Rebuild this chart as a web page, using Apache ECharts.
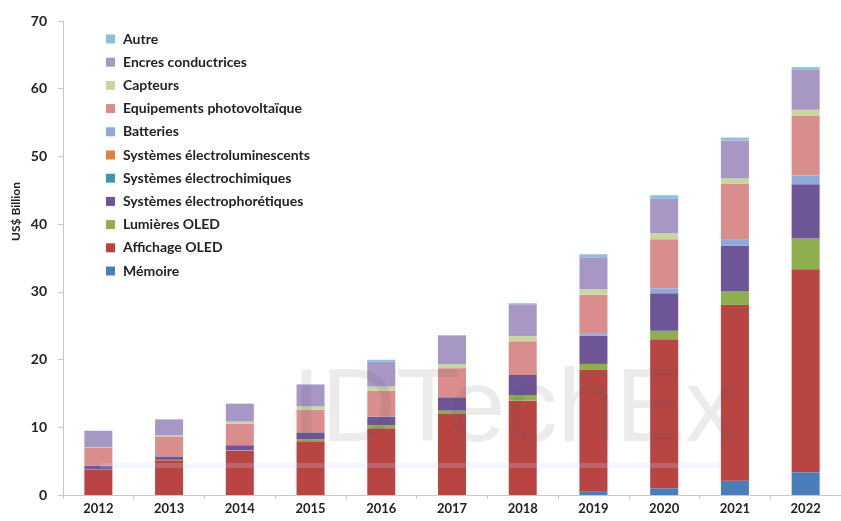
<!DOCTYPE html>
<html>
<head>
<meta charset="utf-8">
<script src="https://cdn.jsdelivr.net/npm/echarts@6/dist/echarts.min.js"></script>
<style>
  html, body { margin: 0; padding: 0; background: #ffffff; }
  #chart { width: 841px; height: 521px; }
</style>
</head>
<body>
<div id="chart"></div>
<script>
// Years on the category axis
const years = ['2012', '2013', '2014', '2015', '2016', '2017', '2018', '2019', '2020', '2021', '2022'];

// Market value per segment, US$ billion (stacked bottom to top)
const memoire          = [0,    0,    0,    0,    0,    0,    0,    0.49, 0.99, 2.12, 3.35];
const affichageOled    = [3.8,  5.15, 6.55, 7.95, 9.85, 11.96, 13.93, 17.98, 22.0, 25.95, 29.99];
const lumieresOled     = [0.05, 0.05, 0.05, 0.3,  0.45, 0.5,  0.84, 0.89, 1.28, 2.07, 4.53];
const electrophoretic  = [0.5,  0.5,  0.75, 1.0,  1.27, 1.97, 2.95, 4.18, 5.52, 6.65, 8.03];
const electrochimiques = [0,    0,    0,    0,    0,    0,    0,    0,    0,    0,    0];
const electrolum       = [0,    0,    0,    0,    0,    0,    0,    0,    0,    0,    0];
const batteries        = [0,    0,    0,    0,    0,    0,    0,    0.35, 0.74, 0.99, 1.28];
const photovoltaique   = [2.6,  2.95, 3.2,  3.35, 3.85, 4.3,  4.97, 5.7,  7.24, 8.17, 8.81];
const capteurs         = [0.1,  0.15, 0.3,  0.5,  0.6,  0.6,  0.8,  0.79, 0.89, 0.84, 0.89];
const encres           = [2.4,  2.36, 2.6,  3.2,  3.65, 4.2,  4.68, 4.73, 5.07, 5.56, 5.91];
const autre            = [0.05, 0.05, 0.05, 0.05, 0.3,  0.1,  0.15, 0.44, 0.54, 0.44, 0.39];

// Y axis ticks
const yMin = 0, yMax = 70, yStep = 10;

const segments = [
  { name: 'Mémoire', data: memoire, color: '#4a7ebb' },
  { name: 'Affichage OLED', data: affichageOled, color: '#b94543' },
  { name: 'Lumières OLED', data: lumieresOled, color: '#8fae4e' },
  { name: 'Systèmes électrophorétiques', data: electrophoretic, color: '#6e5596' },
  { name: 'Systèmes électrochimiques', data: electrochimiques, color: '#3f97ad' },
  { name: 'Systèmes électroluminescents', data: electrolum, color: '#e0823f' },
  { name: 'Batteries', data: batteries, color: '#8eaadb' },
  { name: 'Equipements photovoltaïque', data: photovoltaique, color: '#d98e8d' },
  { name: 'Capteurs', data: capteurs, color: '#c8d6a0' },
  { name: 'Encres conductrices', data: encres, color: '#a797c4' },
  { name: 'Autre', data: autre, color: '#8fbfdc' }
];

const FONT = 'Lato, "Open Sans", sans-serif';

const chart = echarts.init(document.getElementById('chart'), null, { renderer: 'canvas' });

chart.setOption({
  animation: false,
  backgroundColor: '#ffffff',
  grid: { left: 63, top: 21, bottom: 26, width: 788, containLabel: false },
  legend: {
    orient: 'vertical',
    left: 101,
    top: 27,
    itemWidth: 9,
    itemHeight: 9,
    itemGap: 9.2,
    icon: 'rect',
    data: segments.map(s => s.name).reverse(),
    textStyle: { fontFamily: FONT, fontSize: 14, fontWeight: 'bold', color: '#222', padding: [0, 0, 0, 3] }
  },
  xAxis: {
    type: 'category',
    data: years,
    axisLine: { lineStyle: { color: '#c8c8c8', width: 1 } },
    axisTick: { show: true, length: 4, lineStyle: { color: '#c8c8c8' } },
    axisLabel: { fontFamily: FONT, fontSize: 13, fontWeight: 'bold', color: '#222', margin: 7 }
  },
  yAxis: {
    type: 'value',
    min: yMin,
    max: yMax,
    interval: yStep,
    axisLine: { show: true, lineStyle: { color: '#c8c8c8', width: 1 } },
    axisTick: { show: true, length: 5, lineStyle: { color: '#c8c8c8' } },
    splitLine: { show: false },
    axisLabel: { fontFamily: FONT, fontSize: 14, fontWeight: 'bold', color: '#222', margin: 16 }
  },
  series: segments.map(s => ({
    name: s.name,
    type: 'bar',
    stack: 'total',
    barWidth: 28,
    data: s.data,
    itemStyle: { color: s.color },
    emphasis: { disabled: true }
  })),
  graphic: [
    {
      type: 'text',
      left: 10,
      top: 182,
      rotation: Math.PI / 2,
      style: { text: 'US$ Billion', fontFamily: FONT, fontSize: 12, fontWeight: 'bold', fill: '#222' },
      silent: true
    },
    {
      type: 'rect',
      shape: { x: 100, y: 463, width: 620, height: 5 },
      style: { fill: 'rgba(200,215,240,0.22)' },
      z: 100,
      silent: true
    },
    {
      type: 'text',
      x: 292,
      y: 360,
      style: {
        text: 'IDTechEx',
        fontFamily: '"Liberation Sans", sans-serif',
        fontSize: 104,
        fill: 'rgba(90,90,90,0.12)'
      },
      z: 100,
      silent: true
    }
  ]
});
</script>
</body>
</html>
